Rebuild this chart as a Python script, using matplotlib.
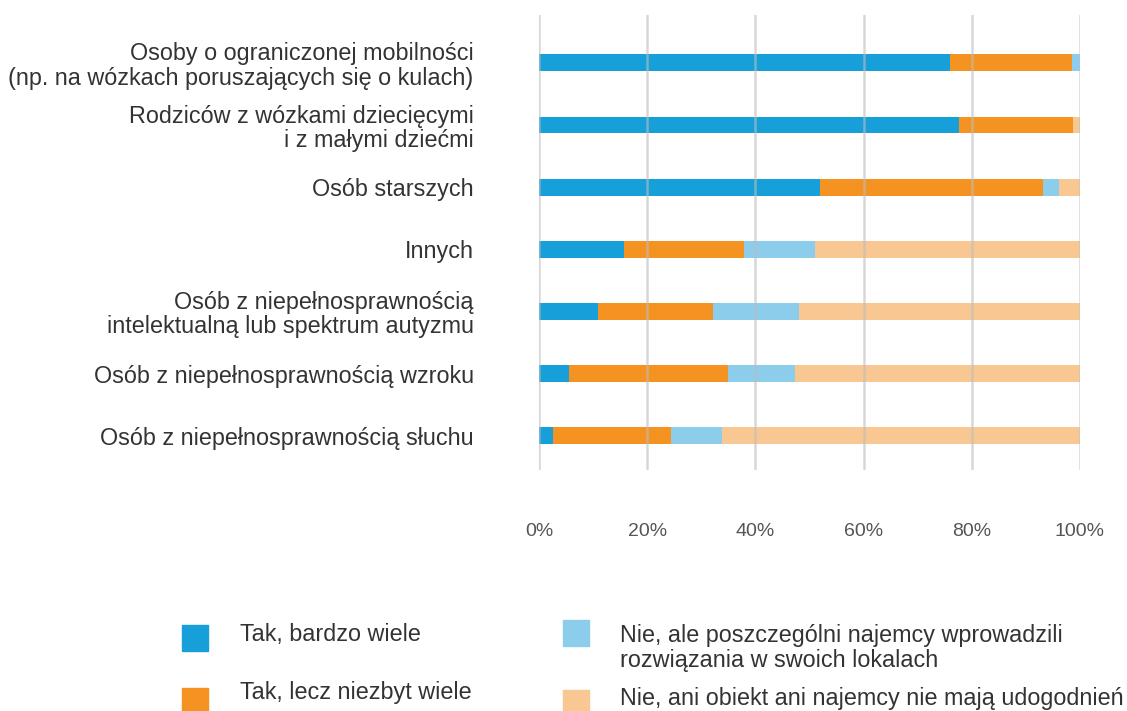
import numpy as np
import matplotlib
matplotlib.use("Agg")
import matplotlib.pyplot as plt
from matplotlib.patches import Rectangle

plt.rcParams['font.family'] = ['Liberation Sans', 'DejaVu Sans']

# dane
categories = [
    "Osoby o ograniczonej mobilności\n(np. na wózkach poruszających się o kulach)",
    "Rodziców z wózkami dziecięcymi\ni z małymi dziećmi",
    "Osób starszych",
    "Innych",
    "Osób z niepełnosprawnością\nintelektualną lub spektrum autyzmu",
    "Osób z niepełnosprawnością wzroku",
    "Osób z niepełnosprawnością słuchu",
]
series_names = [
    "Tak, bardzo wiele",
    "Tak, lecz niezbyt wiele",
    "Nie, ale poszczególni najemcy wprowadzili\nrozwiązania w swoich lokalach",
    "Nie, ani obiekt ani najemcy nie mają udogodnień",
]
tak_bardzo = [75.9, 77.6, 51.9, 15.7, 10.9, 5.5, 2.6]
tak_niezbyt = [22.6, 21.1, 41.3, 22.2, 21.3, 29.5, 21.8]
nie_najemcy = [1.5, 0.0, 2.9, 13.1, 15.9, 12.3, 9.4]
nie_brak = [0.0, 1.3, 3.9, 49.0, 51.9, 52.7, 66.2]
x_ticks = [0, 20, 40, 60, 80, 100]
x_ticklabels = ["0%", "20%", "40%", "60%", "80%", "100%"]

colors = ["#179fd9", "#f59322", "#8bcdea", "#f9c892"]
text_col = "#333333"
fs = 16.8

fig = plt.figure(figsize=(11.27, 7.11), dpi=100)
W, H = 1127, 711
ax = fig.add_axes([539 / W, 1 - 470 / H, 541 / W, 455 / H])

y = np.arange(len(categories))
left = np.zeros(len(categories))
for vals, c in zip([tak_bardzo, tak_niezbyt, nie_najemcy, nie_brak], colors):
    ax.barh(y, vals, left=left, height=0.27, color=c, zorder=2)
    left += np.array(vals)

for xv in x_ticks:
    ax.axvline(xv, color="#bdbdbd", lw=1.8, alpha=0.6, zorder=3)

ax.set_xlim(0, 100)
ax.set_ylim(6.55, -0.77)
ax.set_yticks(y)
ax.set_yticklabels(categories, fontsize=fs, color=text_col, linespacing=1.07)
ax.set_xticks(x_ticks)
ax.set_xticklabels(x_ticklabels, fontsize=14, color="#555555")
ax.tick_params(axis="y", length=0, pad=47)
ax.tick_params(axis="x", length=0, pad=38)
for s in ax.spines.values():
    s.set_visible(False)

# legenda (rysowana ręcznie)
leg_pos = [(182, 625, 240, 635), (182, 688, 240, 692),
           (563, 620, 620, 648), (563, 690, 620, 699)]
for (sx, sy, tx, ty), c, name in zip(leg_pos, colors, series_names):
    fig.patches.append(Rectangle((sx / W, 1 - (sy + 26) / H), 26 / W, 26 / H,
                                 transform=fig.transFigure, color=c))
    fig.text(tx / W, 1 - ty / H, name, fontsize=fs, color=text_col,
             va="center", ha="left", linespacing=1.07)

fig.savefig("out.png", dpi=100)
